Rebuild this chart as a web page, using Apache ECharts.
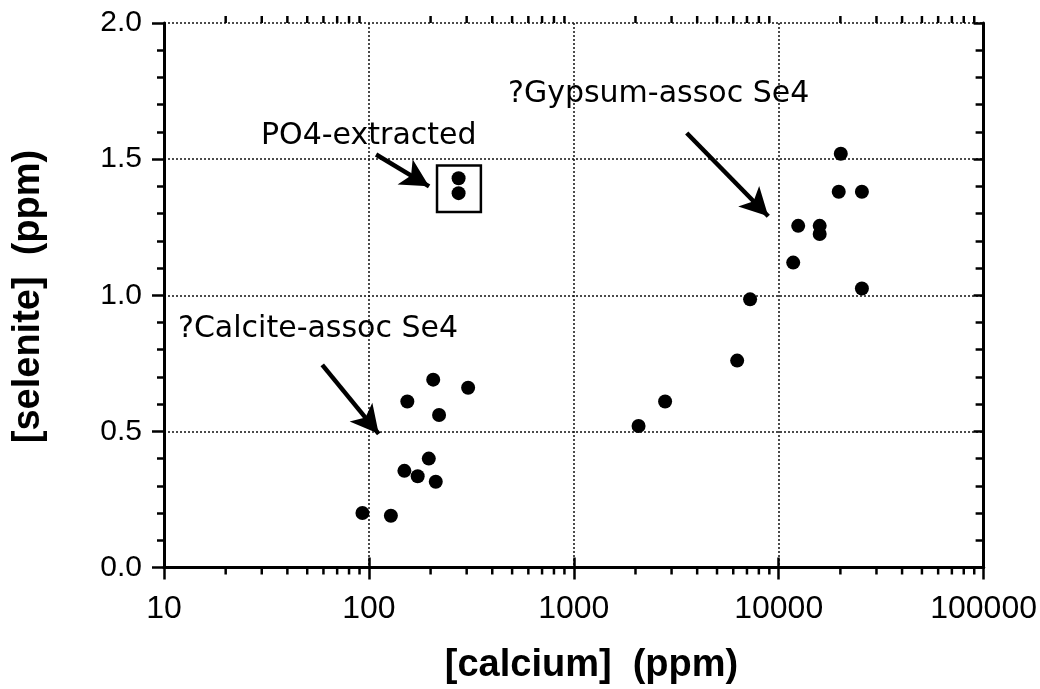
<!DOCTYPE html>
<html>
<head>
<meta charset="utf-8">
<script src="https://cdn.jsdelivr.net/npm/echarts@6/dist/echarts.min.js"></script>
<style>html,body{margin:0;padding:0;background:#fff}#c{width:1040px;height:689px}</style>
</head>
<body>
<div id="c"></div>
<script>
// ---- data ----
var calciteCa = [93, 128, 154, 206, 305, 220, 196, 149, 173, 212];
var calciteSe = [0.20, 0.19, 0.61, 0.69, 0.66, 0.56, 0.40, 0.355, 0.335, 0.315];
var po4Ca = [274, 274];
var po4Se = [1.43, 1.375];
var gypsumCa = [2070, 2790, 6270, 7250, 11770, 12450, 15850, 15850, 19630, 20090, 25470, 25470];
var gypsumSe = [0.52, 0.61, 0.76, 0.985, 1.12, 1.255, 1.255, 1.225, 1.38, 1.52, 1.38, 1.025];
var xTickLabels = ['10', '100', '1000', '10000', '100000'];
var yTickLabels = ['0.0', '0.5', '1.0', '1.5', '2.0'];
var xTitle = '[calcium]  (ppm)';
var yTitle = '[selenite]  (ppm)';
var notePO4 = 'PO4-extracted';
var noteGyp = '?Gypsum-assoc Se4';
var noteCal = '?Calcite-assoc Se4';

// minor tick values of the log axis (2..9 within each decade)
var decades = [10, 100, 1000, 10000];
var minorX = [];
decades.forEach(function (d) { for (var m = 2; m <= 9; m++) minorX.push([d * m, 0]); });

function pairs(a, b) { return a.map(function (v, i) { return [v, b[i]]; }); }

var chart = echarts.init(document.getElementById('c'));
var ink = '#000';
var dot = { color: '#000', opacity: 1 };
var arrowStyle = { color: '#000', width: 4.5, type: 'solid', opacity: 1 };
chart.setOption({
  animation: false,
  backgroundColor: '#fff',
  grid: { left: 164, right: 54, top: 23, bottom: 121.5 },
  xAxis: [{
    type: 'log', logBase: 10, min: 10, max: 100000, position: 'bottom',
    axisLine: { lineStyle: { color: ink, width: 3 } },
    axisTick: { show: true, inside: false, length: 12, lineStyle: { color: ink, width: 2.5 } },
    minorTick: { show: false },
    axisLabel: { margin: 26, color: '#000', fontFamily: 'Liberation Sans', fontSize: 32,
      formatter: function (v) { var i = Math.round(Math.log10(v)) - 1; return xTickLabels[i] || ''; } },
    splitLine: { show: true, lineStyle: { color: '#111', width: 1.5, type: [2, 2] } }
  }, {
    type: 'log', logBase: 10, min: 10, max: 100000, position: 'top',
    axisLine: { lineStyle: { color: ink, width: 3 } },
    axisTick: { show: true, inside: false, length: 10, lineStyle: { color: ink, width: 2.5 } },
    axisLabel: { show: false }, splitLine: { show: false }
  }],
  yAxis: [{
    type: 'value', min: 0, max: 2, interval: 0.5, position: 'left',
    axisLine: { show: true, lineStyle: { color: ink, width: 3 } },
    axisTick: { show: true, inside: false, length: 12, lineStyle: { color: ink, width: 2.5 } },
    minorTick: { show: true, splitNumber: 5, length: 7, lineStyle: { color: ink, width: 2.5 } },
    axisLabel: { margin: 22, color: '#000', fontFamily: 'Liberation Sans', fontSize: 30,
      formatter: function (v) { return yTickLabels[Math.round(v / 0.5)]; } },
    splitLine: { show: true, lineStyle: { color: '#111', width: 1.5, type: [2, 2] } }
  }, {
    type: 'value', min: 0, max: 2, interval: 0.5, position: 'right',
    axisLine: { show: true, lineStyle: { color: ink, width: 3 } },
    axisTick: { show: true, inside: true, length: 10, lineStyle: { color: ink, width: 2.5 } },
    minorTick: { show: true, splitNumber: 5, length: 8, lineStyle: { color: ink, width: 2.5 } },
    axisLabel: { show: false }, splitLine: { show: false }
  }],
  series: [{
    type: 'custom', silent: true, clip: false, xAxisIndex: 0, yAxisIndex: 0,
    data: minorX,
    renderItem: function (params, api) {
      var b = api.coord([api.value(0), 0]);
      var t = api.coord([api.value(0), 2]);
      return { type: 'group', children: [
        { type: 'line', shape: { x1: b[0], y1: b[1], x2: b[0], y2: b[1] + 7 }, style: { stroke: ink, lineWidth: 2.5 } },
        { type: 'line', shape: { x1: t[0], y1: t[1], x2: t[0], y2: t[1] - 7 }, style: { stroke: ink, lineWidth: 2.5 } }
      ] };
    }
  }, {
    type: 'scatter', data: pairs(calciteCa, calciteSe), symbol: 'circle', symbolSize: 14,
    itemStyle: dot,
    markLine: {
      silent: true, symbol: ['none', 'arrow'], symbolSize: [22, 28],
      lineStyle: arrowStyle, label: { show: false },
      data: [[{ coord: [59.2, 0.744] }, { coord: [111.7, 0.491] }]]
    }
  }, {
    type: 'scatter', data: pairs(po4Ca, po4Se), symbol: 'circle', symbolSize: 14,
    itemStyle: dot,
    markArea: {
      silent: true, itemStyle: { color: 'rgba(0,0,0,0)', borderColor: '#000', borderWidth: 2.5, opacity: 1 },
      data: [[{ coord: [215, 1.477] }, { coord: [352, 1.306] }]]
    },
    markLine: {
      silent: true, symbol: ['none', 'arrow'], symbolSize: [22, 28],
      lineStyle: arrowStyle, label: { show: false },
      data: [[{ coord: [108.4, 1.517] }, { coord: [196.7, 1.400] }]]
    }
  }, {
    type: 'scatter', data: pairs(gypsumCa, gypsumSe), symbol: 'circle', symbolSize: 14,
    itemStyle: dot,
    markLine: {
      silent: true, symbol: ['none', 'arrow'], symbolSize: [22, 28],
      lineStyle: arrowStyle, label: { show: false },
      data: [[{ coord: [3557, 1.596] }, { coord: [8893, 1.290] }]]
    }
  }],
  graphic: [
    { type: 'text', left: 261, top: 121, style: { text: notePO4, fill: '#000', font: '30px "DejaVu Sans"' } },
    { type: 'text', left: 508, top: 79, style: { text: noteGyp, fill: '#000', font: '30px "DejaVu Sans"' } },
    { type: 'text', left: 178, top: 314, style: { text: noteCal, fill: '#000', font: '30px "DejaVu Sans"' } },
    { type: 'text', x: 591.5, y: 666, style: { text: xTitle, fill: '#000', font: 'bold 38px "Liberation Sans"', align: 'center', verticalAlign: 'middle' } },
    { type: 'text', x: 29, y: 296.5, rotation: Math.PI / 2, style: { text: yTitle, fill: '#000', font: 'bold 38px "Liberation Sans"', align: 'center', verticalAlign: 'middle' } }
  ]
});
</script>
</body>
</html>
